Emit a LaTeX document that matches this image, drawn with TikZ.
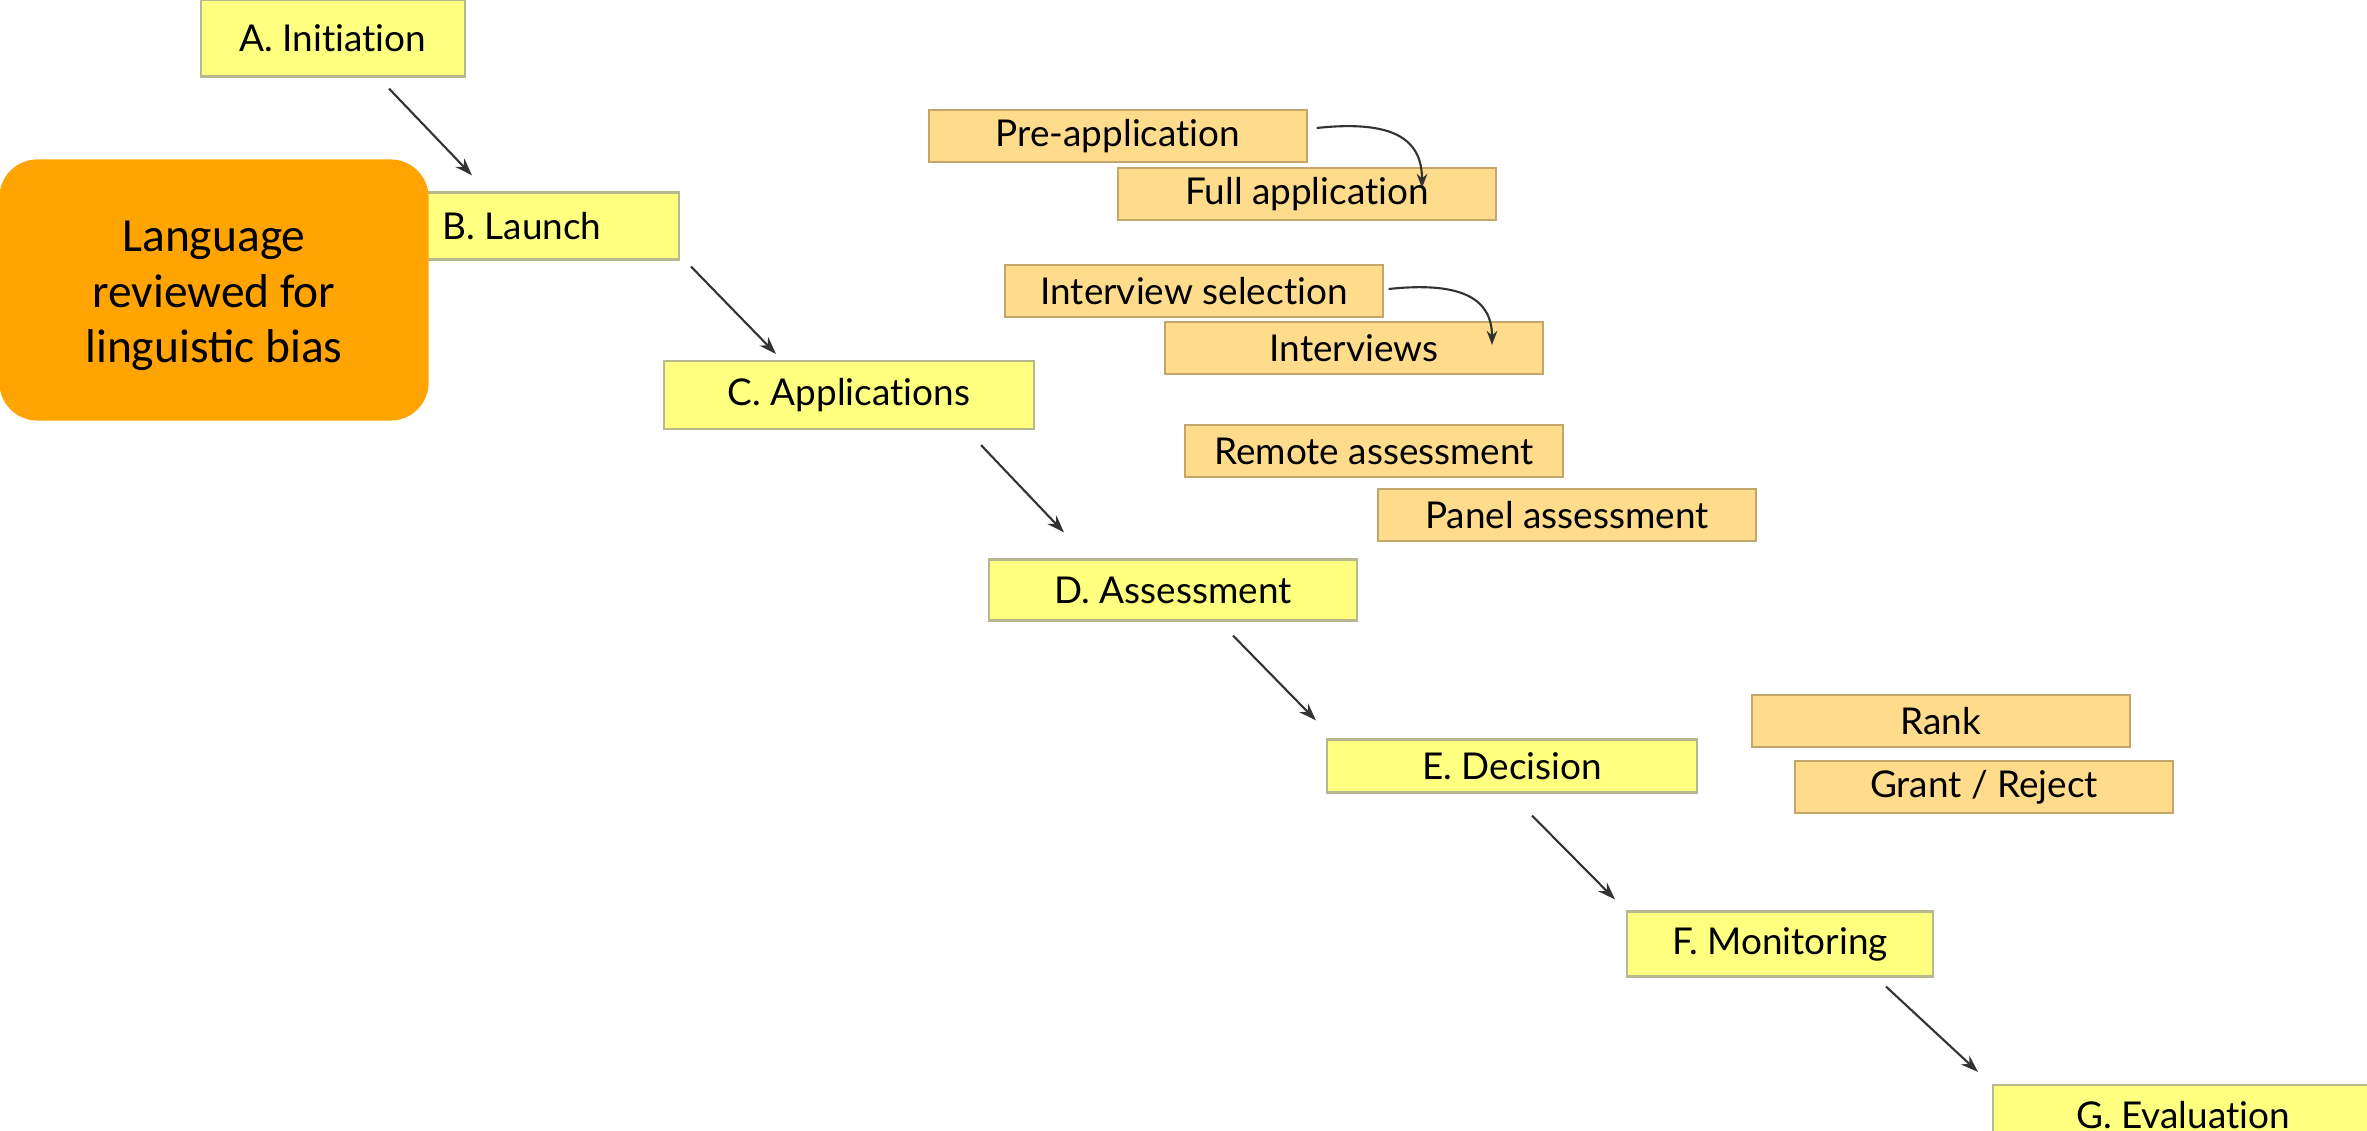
\documentclass[tikz,border=0pt]{standalone}
\usepackage{fontspec}
\setmainfont{Lato}[Ligatures={NoCommon}, Contextuals={NoAlternate}]
\newfontfamily\calloutfont{Carlito}
\usetikzlibrary{arrows.meta,positioning}

\definecolor{stageyellow}{HTML}{FFFF80}
\definecolor{stageedge}{HTML}{B8B890}
\definecolor{subfill}{HTML}{FFDC8C}
\definecolor{subedge}{HTML}{C4A66A}
\definecolor{calloutorange}{HTML}{FFA400}

\begin{document}
\begin{tikzpicture}[
    x=0.01cm, y=-0.01cm,
    stage/.style={rectangle, draw=stageedge, fill=stageyellow, line width=0.6pt,
        inner sep=0pt, font=\fontsize{10.5}{12}\selectfont},
    sub/.style={rectangle, draw=subedge, fill=subfill, line width=0.6pt,
        inner sep=0pt, minimum width=3.77cm, minimum height=0.52cm,
        font=\fontsize{10.5}{12}\selectfont},
    flow/.style={-{Stealth[length=5pt,width=3.5pt]}, draw=black!80, line width=0.6pt},
    loop/.style={-{Stealth[length=4pt,width=3pt]}, draw=black!80, line width=0.6pt}
]
\useasboundingbox (0,0) rectangle (2367,1131);

% Main stages
\node[stage, minimum width=2.64cm, minimum height=0.77cm] (A) at (333,38) {A. Initiation};
\node[stage, minimum width=3.14cm, minimum height=0.67cm] (B) at (522,226) {B. Launch};
\node[stage, minimum width=3.70cm, minimum height=0.68cm] (C) at (849,395) {C. Applications};
\node[stage, minimum width=3.68cm, minimum height=0.61cm] (D) at (1173,590) {D. Assessment};
\node[stage, minimum width=3.69cm, minimum height=0.53cm] (E) at (1512,766) {E. Decision};
\node[stage, minimum width=3.05cm, minimum height=0.65cm] (F) at (1780,944) {F. Monitoring};
\node[stage, minimum width=3.80cm, minimum height=0.60cm] (G) at (2183,1115) {G. Evaluation};

% Callout
\node[rectangle, rounded corners=0.38cm, fill=calloutorange, minimum width=4.29cm,
    minimum height=2.61cm, font=\calloutfont\fontsize{13.5}{15.8}\selectfont]
    (bias) at (214,290) {\raisebox{-0.06cm}[\height][\depth]{\begin{tabular}{@{}c@{}}Language\\reviewed for\\linguistic bias\end{tabular}}};

% Sub-steps
\node[sub] (pre) at (1118,136) {Pre-application};
\node[sub] (full) at (1307,194) {Full application};
\node[sub] (intsel) at (1194,291) {Interview selection};
\node[sub] (intv) at (1354,348) {Interviews};
\node[sub] (remote) at (1374,451) {Remote assessment};
\node[sub] (panel) at (1567,515) {Panel assessment};
\node[sub] (rank) at (1941,721) {Rank};
\node[sub] (grant) at (1984,787) {Grant / Reject};

% Flow between stages
\draw[flow] ([shift={(56,11)}]A.south) -- ([shift={(-50,-16)}]B.north);
\draw[flow] ([shift={(169,6)}]B.south) -- ([shift={(-73,-6)}]C.north);
\draw[flow] ([shift={(132,15)}]C.south) -- ([shift={(-109,-26)}]D.north);
\draw[flow] ([shift={(60,14)}]D.south) -- ([shift={(-196,-18)}]E.north);
\draw[flow] ([shift={(20,22)}]E.south) -- ([shift={(-165,-11)}]F.north);
\draw[flow] ([shift={(106,9)}]F.south) -- ([shift={(-205,-12)}]G.north);

% Curved links
\draw[loop] ([shift={(9,-8)}]pre.east) .. controls +(75,-8) and +(0,-50) .. ([shift={(115,21)}]full.north);
\draw[loop] ([shift={(5,-2)}]intsel.east) .. controls +(75,-8) and +(0,-45) .. ([shift={(138,24)}]intv.north);
\end{tikzpicture}
\end{document}
